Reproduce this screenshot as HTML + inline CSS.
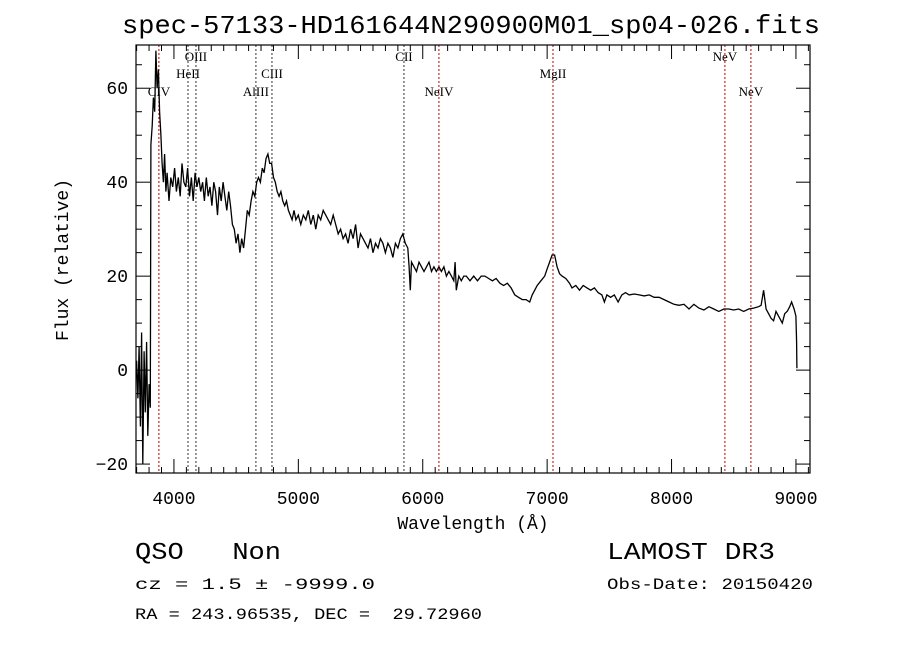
<!DOCTYPE html>
<html><head><meta charset="utf-8"><style>
body{margin:0;background:#fff;}
svg{display:block;}
.m{font-family:"Liberation Mono",monospace;fill:#000;white-space:pre;}
.s{font-family:"Liberation Serif",serif;fill:#000;font-size:13px;}
</style></head><body>
<svg id="chart" width="900" height="649" viewBox="0 0 900 649">
<rect width="900" height="649" fill="#fff"/>
<text class="m" x="471" y="33" font-size="26" text-anchor="middle" textLength="698" lengthAdjust="spacingAndGlyphs">spec-57133-HD161644N290900M01_sp04-026.fits</text>
<g id="grid"></g>
<g id="lines"></g>
<g id="ticks"></g>
<rect x="136" y="45" width="674" height="428" fill="none" stroke="#000" stroke-width="1.2"/>
<text class="m" x="473" y="529" font-size="18" text-anchor="middle">Wavelength (Å)</text>
<text class="m" x="0" y="0" font-size="18" text-anchor="middle" transform="translate(68,260) rotate(-90)">Flux (relative)</text>
<text class="m" x="135" y="559" font-size="24" textLength="146" lengthAdjust="spacingAndGlyphs" xml:space="preserve">QSO   Non</text>
<text class="m" x="607" y="559" font-size="24" textLength="168" lengthAdjust="spacingAndGlyphs">LAMOST DR3</text>
<text class="m" x="135" y="589" font-size="16" textLength="240" lengthAdjust="spacingAndGlyphs">cz = 1.5 ± -9999.0</text>
<text class="m" x="607" y="589" font-size="16" textLength="206" lengthAdjust="spacingAndGlyphs">Obs-Date: 20150420</text>
<text class="m" x="135" y="619" font-size="16" textLength="347" lengthAdjust="spacingAndGlyphs" xml:space="preserve">RA = 243.96535, DEC =  29.72960</text>
</svg>
<script>
const wavelengths=[3700,3710,3720,3730,3740,3750,3760,3770,3780,3790,3800,3810,3815,3825,3835,3845,3855,3865,3875,3885,3895,3905,3915,3925,3935,3945,3960,3975,3990,4005,4020,4035,4050,4065,4080,4095,4110,4125,4140,4155,4170,4185,4200,4215,4230,4245,4260,4275,4290,4305,4320,4335,4350,4365,4380,4395,4410,4425,4440,4455,4470,4485,4500,4515,4530,4545,4560,4575,4590,4605,4620,4635,4650,4665,4680,4695,4710,4725,4740,4755,4770,4785,4800,4815,4830,4845,4860,4875,4890,4905,4920,4935,4950,4965,4980,5000,5020,5040,5060,5080,5100,5120,5140,5160,5180,5200,5220,5240,5260,5280,5300,5320,5340,5360,5380,5400,5420,5440,5460,5480,5500,5520,5540,5560,5580,5600,5620,5640,5660,5680,5700,5720,5740,5760,5780,5800,5820,5840,5860,5880,5890,5900,5910,5930,5950,5970,5990,6010,6030,6050,6070,6090,6110,6130,6150,6170,6190,6210,6230,6250,6260,6270,6290,6310,6330,6350,6380,6410,6440,6470,6500,6530,6560,6590,6620,6650,6680,6710,6740,6770,6800,6830,6860,6880,6900,6920,6950,6980,7000,7020,7040,7060,7080,7100,7120,7150,7180,7200,7230,7260,7290,7320,7350,7380,7410,7440,7460,7480,7510,7540,7570,7600,7630,7660,7700,7740,7780,7820,7860,7900,7940,7980,8020,8060,8100,8140,8180,8220,8260,8300,8340,8380,8420,8460,8500,8540,8580,8620,8660,8700,8720,8740,8760,8780,8800,8820,8840,8870,8890,8910,8930,8950,8965,8985,9000,9005,9008];
const flux=[2,-6,5,-12,8,-20,4,-9,6,-14,-3,-8,48,52,58,55,68,60,64,55,50,44,40,46,38,42,36,41,39,43,38,41,37,44,40,39,43,37,41,36,42,39,41,38,40,36,41,37,39,35,40,38,33,39,36,40,37,34,38,35,31,30,27,29,25,28,26,30,34,33,36,38,37,40,41,40,43,42,45,46,44,44,41,40,38,37,38,36,35,36,34,33,32,34,32,33,31,33,32,34,31,33,30,33,32,34,33,32,31,33,31,29,30,28,29,27,30,28,31,26,29,28,27,26,28,25,27,26,28,27,25,27,26,24,27,26,28,29,27,26,22,17,23,22,21,23,22,21,22,23,21,22,21,22,21,22,20,21,20,19,23,17,20,19,20,20,19,20,19,20,20,19.5,19,19.5,18.5,18,18.5,17.5,16,15.5,15,15,14.5,16,17,18,19,20,21.5,23,24.5,24.5,22,20.5,20,19.5,18.5,17.5,18,17,18,17.5,17,17.5,16.5,16,14.5,16,15.5,16,14.5,16,16.5,16,16.2,16,15.8,16,15.5,15.5,15,14.5,14,13.8,14,13,14,13.2,12.8,13.5,13,12.5,13,13,12.8,13,12.5,13,13.2,13.5,13.8,17,13,12,11,10.5,12.5,11,10,12,12.5,13.5,14.5,13,11.5,6,0.4];
const lineNames=["CIV","HeII","OIII","AlIII","CIII","CII","NeIV","MgII","NeV","NeV"];
const lineWaves=[3879,4113,4177,4659,4788,5849,6130,7047,8429,8638];
const lineRed=[1,0,0,0,0,0,1,1,1,1];
const xTicks=[4000,5000,6000,7000,8000,9000];
const yTicks=[-20,0,20,40,60];
const X0=136,X1=810,Y0=45,Y1=473,WMIN=3695,WMAX=9113,FMIN=-21.9,FMAX=69.2;
const sx=w=>X0+(w-WMIN)/(WMAX-WMIN)*(X1-X0);
const sy=f=>Y1-(f-FMIN)/(FMAX-FMIN)*(Y1-Y0);
const NS="http://www.w3.org/2000/svg";
function mk(tag,attrs,parent){const e=document.createElementNS(NS,tag);for(const k in attrs)e.setAttribute(k,attrs[k]);document.getElementById(parent).appendChild(e);return e;}
const labelY=[96,78,61,96,78,61,96,78,61,96];
lineWaves.forEach((w,i)=>{
  const x=sx(w);
  const l=mk('line',{x1:x,x2:x,y1:Y0,y2:Y1,stroke:lineRed[i]?'#c00000':'#333','stroke-width':1,'stroke-dasharray':'2,2'},'lines');
  
  
  const t=mk('text',{x:x,y:labelY[i],'text-anchor':'middle',class:'s'},'lines');
  t.textContent=lineNames[i];
  
  
});
let d='';
wavelengths.forEach((w,i)=>{d+=(i?'L':'M')+sx(w).toFixed(1)+','+sy(flux[i]).toFixed(1);});
const p=mk('path',{d:d,fill:'none',stroke:'#000','stroke-width':1.3,'stroke-linejoin':'miter'},'lines');


for(let w=3700;w<=9100;w+=100){
  const x=sx(w),len=(w%1000===0)?14:6;
  mk('line',{x1:x,x2:x,y1:Y1,y2:Y1-len,stroke:'#000'},'ticks');
  mk('line',{x1:x,x2:x,y1:Y0,y2:Y0+len,stroke:'#000'},'ticks');
}
for(let f=-20;f<=65;f+=5){
  const y=sy(f),len=(f%20===0)?14:6;
  mk('line',{x1:X0,x2:X0+len,y1:y,y2:y,stroke:'#000'},'ticks');
  mk('line',{x1:X1,x2:X1-len,y1:y,y2:y,stroke:'#000'},'ticks');
}
xTicks.forEach(v=>{
  const t=mk('text',{x:sx(v),y:504,'text-anchor':'middle',class:'m','font-size':18},'ticks');
  t.textContent=v;
  
  
});
yTicks.forEach(v=>{
  const t=mk('text',{x:128,y:sy(v)+6,'text-anchor':'end',class:'m','font-size':18},'ticks');
  t.textContent=v<0?'\u2212'+(-v):v;
  
  
});
</script>
</body></html>
